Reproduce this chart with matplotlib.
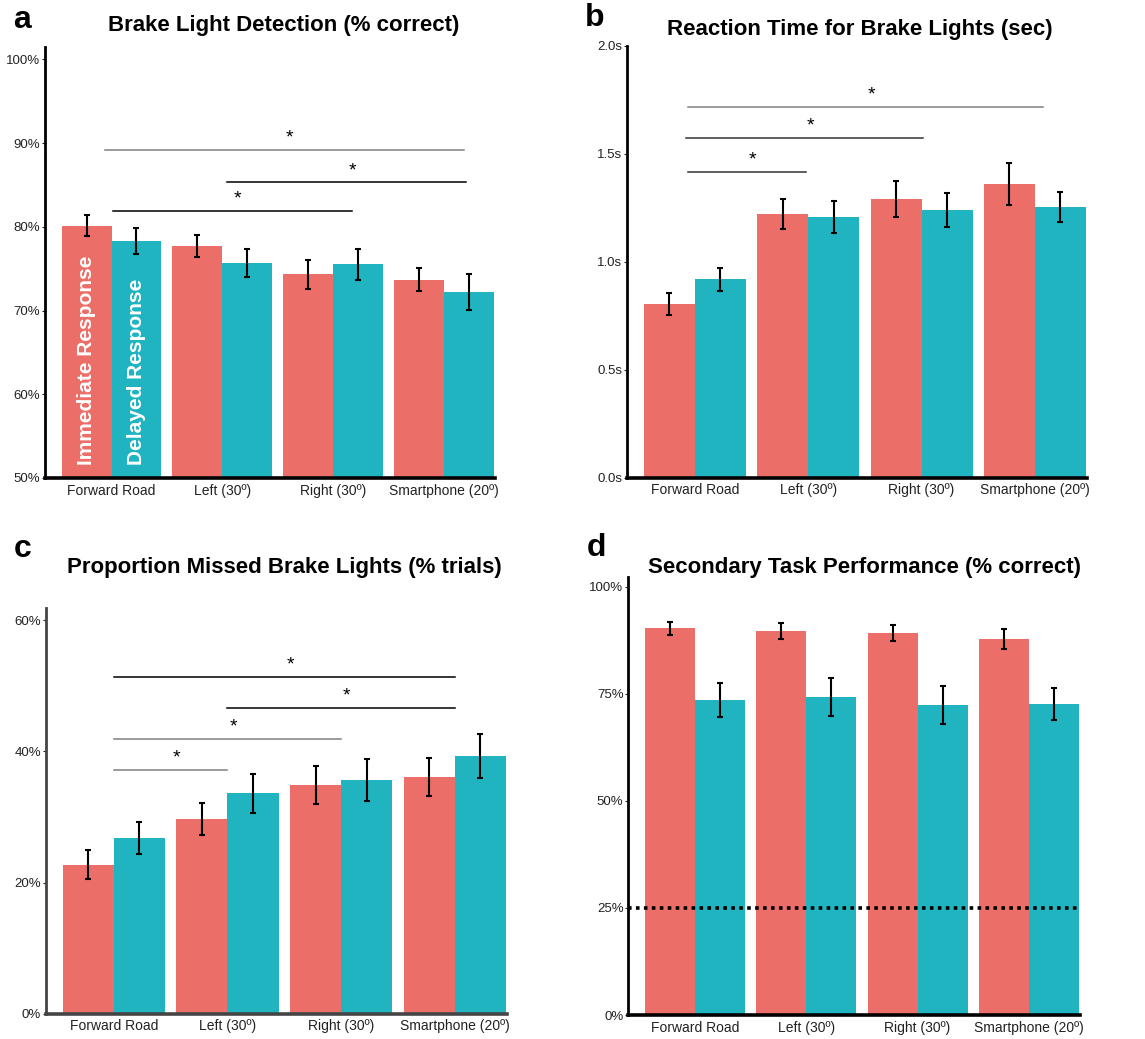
import matplotlib
matplotlib.use("Agg")
import matplotlib.pyplot as plt
import numpy as np

plt.rcParams["font.family"] = ["Liberation Sans", "DejaVu Sans"]

# categories shared by all four panels
categories = ["Forward Road", "Left (30º)", "Right (30º)", "Smartphone (20º)"]

# a: brake light detection (% correct)
det_imm = [80.1, 77.7, 74.3, 73.7]
det_imm_se = [1.25, 1.35, 1.7, 1.35]
det_del = [78.3, 75.7, 75.5, 72.2]
det_del_se = [1.5, 1.7, 1.85, 2.15]

# b: reaction time (sec)
rt_imm = [0.805, 1.221, 1.290, 1.360]
rt_imm_se = [0.050, 0.071, 0.085, 0.097]
rt_del = [0.918, 1.207, 1.239, 1.253]
rt_del_se = [0.054, 0.074, 0.077, 0.069]

# c: missed brake lights (% trials)
miss_imm = [22.7, 29.7, 34.9, 36.1]
miss_imm_se = [2.2, 2.4, 2.9, 2.95]
miss_del = [26.8, 33.6, 35.6, 39.3]
miss_del_se = [2.45, 2.95, 3.2, 3.35]

# d: secondary task (% correct)
sec_imm = [90.3, 89.7, 89.1, 87.8]
sec_imm_se = [1.5, 1.85, 1.85, 2.4]
sec_del = [73.5, 74.2, 72.4, 72.6]
sec_del_se = [4.0, 4.4, 4.4, 3.8]
sec_chance = 25

# significance brackets: (start, end, height, colour)
sig_a = [(0.94, 4.18, 89.2, "#808080"), (2.04, 4.20, 85.3, "black"), (1.01, 3.17, 81.9, "black")]
sig_b = [(0.94, 4.07, 1.718, "#808080"), (0.92, 3.01, 1.573, "#333333"), (0.94, 1.98, 1.415, "#333333")]
sig_c = [(1.0, 4.0, 51.3, "black"), (2.0, 4.0, 46.6, "black"),
         (1.0, 3.0, 41.9, "#808080"), (1.0, 2.0, 37.2, "#808080")]

RED = "#EB6E69"
TEAL = "#1FB4C0"
W = 1145
H = 1039


def draw_panel(rect, imm, imm_se, dele, dele_se, ylim, yticks, ylabels, sigs, spine_col="black"):
    ax = fig.add_axes(rect)
    x = np.arange(1, len(categories) + 1)
    bw = 0.45
    ax.bar(x - bw / 2, imm, bw, color=RED, zorder=2)
    ax.bar(x + bw / 2, dele, bw, color=TEAL, zorder=2)
    ax.errorbar(x - bw / 2, imm, yerr=imm_se, fmt="none", ecolor="black",
                elinewidth=1.5, capsize=2.4, capthick=1.5, zorder=3)
    ax.errorbar(x + bw / 2, dele, yerr=dele_se, fmt="none", ecolor="black",
                elinewidth=1.5, capsize=2.4, capthick=1.5, zorder=3)
    for x0, x1, y, col in sigs:
        ax.plot([x0, x1], [y, y], color=col, lw=1.1, zorder=3)
        ax.annotate("*", xy=((x0 + x1) / 2 + 0.05, y), xytext=(0, 8.5),
                    textcoords="offset points", ha="center", va="center",
                    fontsize=14, color="black")
    ax.set_xlim(0.4, 4.46)
    ax.set_ylim(*ylim)
    ax.set_xticks(x)
    ax.set_xticklabels(categories, fontsize=10, color="#222222")
    ax.set_yticks(yticks)
    ax.set_yticklabels(ylabels, fontsize=9.5, color="#222222")
    ax.tick_params(axis="x", length=0, pad=4)
    ax.tick_params(axis="y", length=2.5, width=0.8, pad=1, colors="#222222")
    for s in ["top", "right"]:
        ax.spines[s].set_visible(False)
    ax.spines["left"].set_linewidth(2.0)
    ax.spines["bottom"].set_linewidth(2.6)
    ax.spines["left"].set_color(spine_col)
    ax.spines["bottom"].set_color(spine_col)
    return ax


def frac_rect(left, right, top, bottom):
    return [left / W, 1 - bottom / H, (right - left) / W, (bottom - top) / H]


fig = plt.figure(figsize=(W / 100, H / 100), dpi=100)

ax_a = draw_panel(frac_rect(45, 495, 46.7, 478), det_imm, det_imm_se, det_del, det_del_se,
                  (50, 101.5), [50, 60, 70, 80, 90, 100],
                  ["50%", "60%", "70%", "80%", "90%", "100%"], sig_a)
ax_a.text(1 - 0.225, 51.6, "Immediate Response", rotation=90, ha="center", va="bottom",
          color="white", fontsize=15, fontweight="bold", zorder=4)
ax_a.text(1 + 0.225, 51.6, "Delayed Response", rotation=90, ha="center", va="bottom",
          color="white", fontsize=15, fontweight="bold", zorder=4)

draw_panel(frac_rect(627, 1087, 45.7, 477.7), rt_imm, rt_imm_se, rt_del, rt_del_se,
           (0, 2.0), [0, 0.5, 1.0, 1.5, 2.0],
           ["0.0s", "0.5s", "1.0s", "1.5s", "2.0s"], sig_b)

draw_panel(frac_rect(45.7, 507, 608.3, 1013.7), miss_imm, miss_imm_se, miss_del, miss_del_se,
           (0, 61.8), [0, 20, 40, 60], ["0%", "20%", "40%", "60%"], sig_c,
           spine_col="#444444")

ax_d = draw_panel(frac_rect(628.3, 1080, 577.3, 1015), sec_imm, sec_imm_se, sec_del, sec_del_se,
                  (0, 102.2), [0, 25, 50, 75, 100], ["0%", "25%", "50%", "75%", "100%"], [])
ax_d.axhline(sec_chance, color="black", lw=2.6, ls=(0, (1, 1.2)), zorder=4)

# titles and panel letters
titles = [
    ("Brake Light Detection (% correct)", 284, 26),
    ("Reaction Time for Brake Lights (sec)", 860, 29),
    ("Proportion Missed Brake Lights (% trials)", 284, 567),
    ("Secondary Task Performance (% correct)", 865, 567),
]
for txt, px, py in titles:
    fig.text(px / W, 1 - py / H, txt, ha="center", va="center", fontsize=16, fontweight="bold")

letters = [("a", 22, 20), ("b", 595, 18), ("c", 23, 549), ("d", 596, 548)]
for txt, px, py in letters:
    fig.text(px / W, 1 - py / H, txt, ha="center", va="center", fontsize=23, fontweight="bold")

fig.savefig("out.png", dpi=100, facecolor="white")
